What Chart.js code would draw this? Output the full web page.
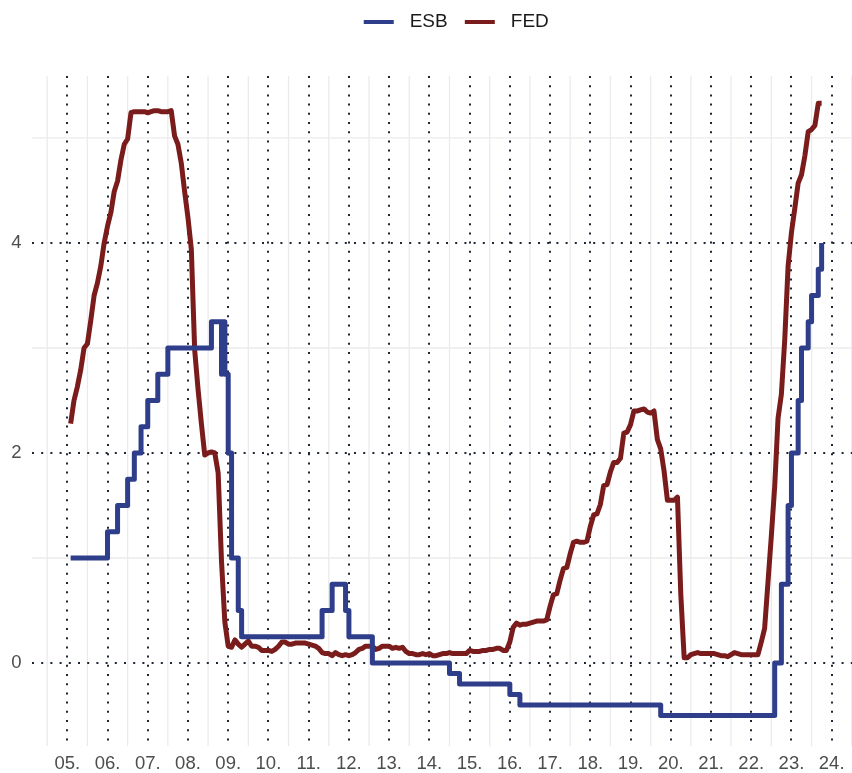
<!DOCTYPE html>
<html>
<head>
<meta charset="utf-8">
<title>ESB in FED</title>
<script src="https://cdn.jsdelivr.net/npm/chart.js@4.4.1/dist/chart.umd.min.js"></script>
<style>
  body { margin: 0; background: #ffffff; }
  #wrap { width: 852px; height: 773px; }
</style>
</head>
<body>
<div id="wrap"><canvas id="chart" width="852" height="773"></canvas></div>
<script>
// ESB: mesec spremembe obrestne mere in nova vrednost (stopnicasto)
const esbMonths = [
  "2005-01", "2005-12", "2006-03", "2006-06", "2006-08", "2006-10", "2006-12",
  "2007-03", "2007-06", "2008-07", "2008-10", "2008-10", "2008-11", "2008-12",
  "2009-01", "2009-03", "2009-04", "2011-04", "2011-07", "2011-11", "2011-12",
  "2012-07", "2014-06", "2014-09", "2015-12", "2016-03", "2019-09", "2022-07",
  "2022-09", "2022-11", "2022-12", "2023-02", "2023-03", "2023-05", "2023-06",
  "2023-08", "2023-09"
];
const esbRates = [
  1.00, 1.25, 1.50, 1.75, 2.00, 2.25, 2.50,
  2.75, 3.00, 3.25, 2.75, 3.25, 2.75, 2.00,
  1.00, 0.50, 0.25, 0.50, 0.75, 0.50, 0.25,
  0.00, -0.10, -0.20, -0.30, -0.40, -0.50, 0.00,
  0.75, 1.50, 2.00, 2.50, 3.00, 3.25, 3.50,
  3.75, 4.00
];

// FED: mesecne vrednosti od januarja 2005
const fedStart = "2005-01";
const fedRates = [
  2.28, 2.50, 2.63, 2.79, 3.00, 3.04, 3.26, 3.50, 3.62, 3.78, 4.00, 4.16, // 2005
  4.29, 4.49, 4.59, 4.79, 4.94, 4.99, 5.24, 5.25, 5.25, 5.25, 5.25, 5.24, // 2006
  5.25, 5.26, 5.26, 5.25, 5.25, 5.25, 5.26, 5.02, 4.94, 4.76, 4.49, 4.24, // 2007
  3.94, 2.98, 2.61, 2.28, 1.98, 2.00, 2.01, 2.00, 1.81, 0.97, 0.39, 0.16, // 2008
  0.15, 0.22, 0.18, 0.15, 0.18, 0.21, 0.16, 0.16, 0.15, 0.12, 0.12, 0.12, // 2009
  0.11, 0.13, 0.16, 0.20, 0.20, 0.18, 0.18, 0.19, 0.19, 0.19, 0.19, 0.18, // 2010
  0.17, 0.16, 0.14, 0.10, 0.09, 0.09, 0.07, 0.10, 0.08, 0.07, 0.08, 0.07, // 2011
  0.08, 0.10, 0.13, 0.14, 0.16, 0.16, 0.16, 0.13, 0.14, 0.16, 0.16, 0.16, // 2012
  0.14, 0.15, 0.14, 0.15, 0.11, 0.09, 0.09, 0.08, 0.08, 0.09, 0.08, 0.09, // 2013
  0.07, 0.07, 0.08, 0.09, 0.09, 0.10, 0.09, 0.09, 0.09, 0.09, 0.09, 0.12, // 2014
  0.11, 0.11, 0.11, 0.12, 0.12, 0.13, 0.13, 0.14, 0.14, 0.12, 0.12, 0.20, // 2015
  0.34, 0.38, 0.36, 0.37, 0.37, 0.38, 0.39, 0.40, 0.40, 0.40, 0.41, 0.54, // 2016
  0.65, 0.66, 0.79, 0.90, 0.91, 1.04, 1.15, 1.16, 1.15, 1.15, 1.16, 1.30, // 2017
  1.41, 1.42, 1.51, 1.69, 1.70, 1.82, 1.91, 1.91, 1.95, 2.19, 2.20, 2.27, // 2018
  2.40, 2.40, 2.41, 2.42, 2.39, 2.38, 2.40, 2.13, 2.04, 1.83, 1.55, 1.55, // 2019
  1.55, 1.58, 0.65, 0.05, 0.05, 0.08, 0.09, 0.10, 0.09, 0.09, 0.09, 0.09, // 2020
  0.09, 0.08, 0.07, 0.07, 0.06, 0.08, 0.10, 0.09, 0.08, 0.08, 0.08, 0.08, // 2021
  0.08, 0.08, 0.20, 0.33, 0.77, 1.21, 1.68, 2.33, 2.56, 3.08, 3.78, 4.10, // 2022
  4.33, 4.57, 4.65, 4.83, 5.06, 5.08, 5.12, 5.33, 5.33                    // 2023
];

// oznake osi
const xTickYears = [2005, 2006, 2007, 2008, 2009, 2010, 2011, 2012, 2013, 2014,
                    2015, 2016, 2017, 2018, 2019, 2020, 2021, 2022, 2023, 2024];
const yTickValues = [0, 2, 4];
const yMinorValues = [1, 3, 5];

const colEsb = "#2f3e8b";
const colFed = "#7a1c1c";

// mesec "LLLL-MM" -> decimalno leto (konec meseca)
function monthToX(s) {
  const [y, m] = s.split("-").map(Number);
  return y + m / 12;
}

const esbPoints = esbMonths.map((m, i) => ({ x: monthToX(m), y: esbRates[i] }));
const fedX0 = monthToX(fedStart);
const fedPoints = fedRates.map((v, i) => ({ x: fedX0 + i / 12, y: v }));

// crtica za legendo
function swatch(color) {
  const c = document.createElement("canvas");
  c.width = 44;
  c.height = 4;
  const g = c.getContext("2d");
  g.fillStyle = color;
  g.fillRect(4, 0, 30, 4);
  return c;
}
const swatches = [swatch(colEsb), swatch(colFed)];

// mreza: svetlo sive pomozne crte in pikcaste glavne crte
const gridPlugin = {
  id: "mreza",
  beforeDatasetsDraw(chart) {
    const { ctx, chartArea: a, scales: { x, y } } = chart;
    ctx.save();
    ctx.beginPath();
    ctx.rect(a.left, a.top, a.right - a.left, a.bottom - a.top);
    ctx.clip();

    ctx.strokeStyle = "#ebebeb";
    ctx.lineWidth = 1.3;
    xTickYears.concat([2004]).forEach((yr) => {
      const px = x.getPixelForValue(yr + 0.5);
      ctx.beginPath(); ctx.moveTo(px, a.top); ctx.lineTo(px, a.bottom); ctx.stroke();
    });
    yMinorValues.forEach((v) => {
      const py = y.getPixelForValue(v);
      ctx.beginPath(); ctx.moveTo(a.left, py); ctx.lineTo(a.right, py); ctx.stroke();
    });

    ctx.setLineDash([2, 7.2]);
    ctx.strokeStyle = "#1c2535";
    ctx.lineWidth = 2;
    xTickYears.forEach((yr) => {
      const px = Math.round(x.getPixelForValue(yr));
      ctx.beginPath(); ctx.moveTo(px, a.top); ctx.lineTo(px, a.bottom); ctx.stroke();
    });
    yTickValues.forEach((v) => {
      const py = Math.round(y.getPixelForValue(v));
      ctx.beginPath(); ctx.moveTo(a.left, py); ctx.lineTo(a.right, py); ctx.stroke();
    });
    ctx.restore();
  }
};

// legenda: visina prostora nad grafom in zamik v desno
const legendPlugin = {
  id: "legendaPoz",
  afterInit(chart) {
    const lg = chart.legend;
    const fit = lg.fit;
    lg.fit = function () {
      fit.call(this);
      this.height = 76;
    };
  },
  afterLayout(chart) {
    const lg = chart.legend;
    lg.left = 60;
    lg.right = 852;
    lg.width = lg.right - lg.left;
    lg.top = -4;
    lg.bottom = 72;
  }
};

Chart.defaults.font.family = "'Liberation Sans', Arial, sans-serif";

new Chart(document.getElementById("chart"), {
  type: "line",
  data: {
    datasets: [
      {
        label: "ESB",
        data: esbPoints,
        borderColor: colEsb,
        backgroundColor: colEsb,
        borderWidth: 5,
        stepped: true,
        pointRadius: 0,
        borderJoinStyle: "round",
        fill: false
      },
      {
        label: "FED",
        data: fedPoints,
        borderColor: colFed,
        backgroundColor: colFed,
        borderWidth: 5,
        tension: 0,
        pointRadius: 0,
        borderJoinStyle: "round",
        fill: false
      }
    ]
  },
  options: {
    responsive: false,
    animation: false,
    events: [],
    layout: { padding: 0 },
    scales: {
      x: {
        type: "linear",
        min: 2004.123,
        max: 2024.505,
        grid: { display: false, drawTicks: false },
        border: { display: false },
        afterBuildTicks: (s) => { s.ticks = xTickYears.map((v) => ({ value: v })); },
        afterFit: (s) => { s.height = 27; },
        ticks: {
          autoSkip: false,
          maxRotation: 0,
          padding: 7,
          color: "#4d4d4d",
          font: { size: 18.5 },
          callback: (v) => String(v % 100).padStart(2, "0") + "."
        }
      },
      y: {
        type: "linear",
        min: -0.79,
        max: 5.59,
        grid: { display: false, drawTicks: false },
        border: { display: false },
        afterBuildTicks: (s) => { s.ticks = yTickValues.map((v) => ({ value: v })); },
        afterFit: (s) => { s.width = 32; },
        ticks: {
          padding: 10.5,
          color: "#4d4d4d",
          font: { size: 18.5 }
        }
      }
    },
    plugins: {
      tooltip: { enabled: false },
      legend: {
        position: "top",
        labels: {
          usePointStyle: true,
          pointStyleWidth: 37,
          padding: 16.6,
          color: "#1a1a1a",
          font: { size: 19 },
          generateLabels: (chart) =>
            Chart.defaults.plugins.legend.labels.generateLabels(chart).map((l) => ({
              ...l,
              pointStyle: swatches[l.datasetIndex]
            }))
        }
      }
    }
  },
  plugins: [gridPlugin, legendPlugin]
});
</script>
</body>
</html>
